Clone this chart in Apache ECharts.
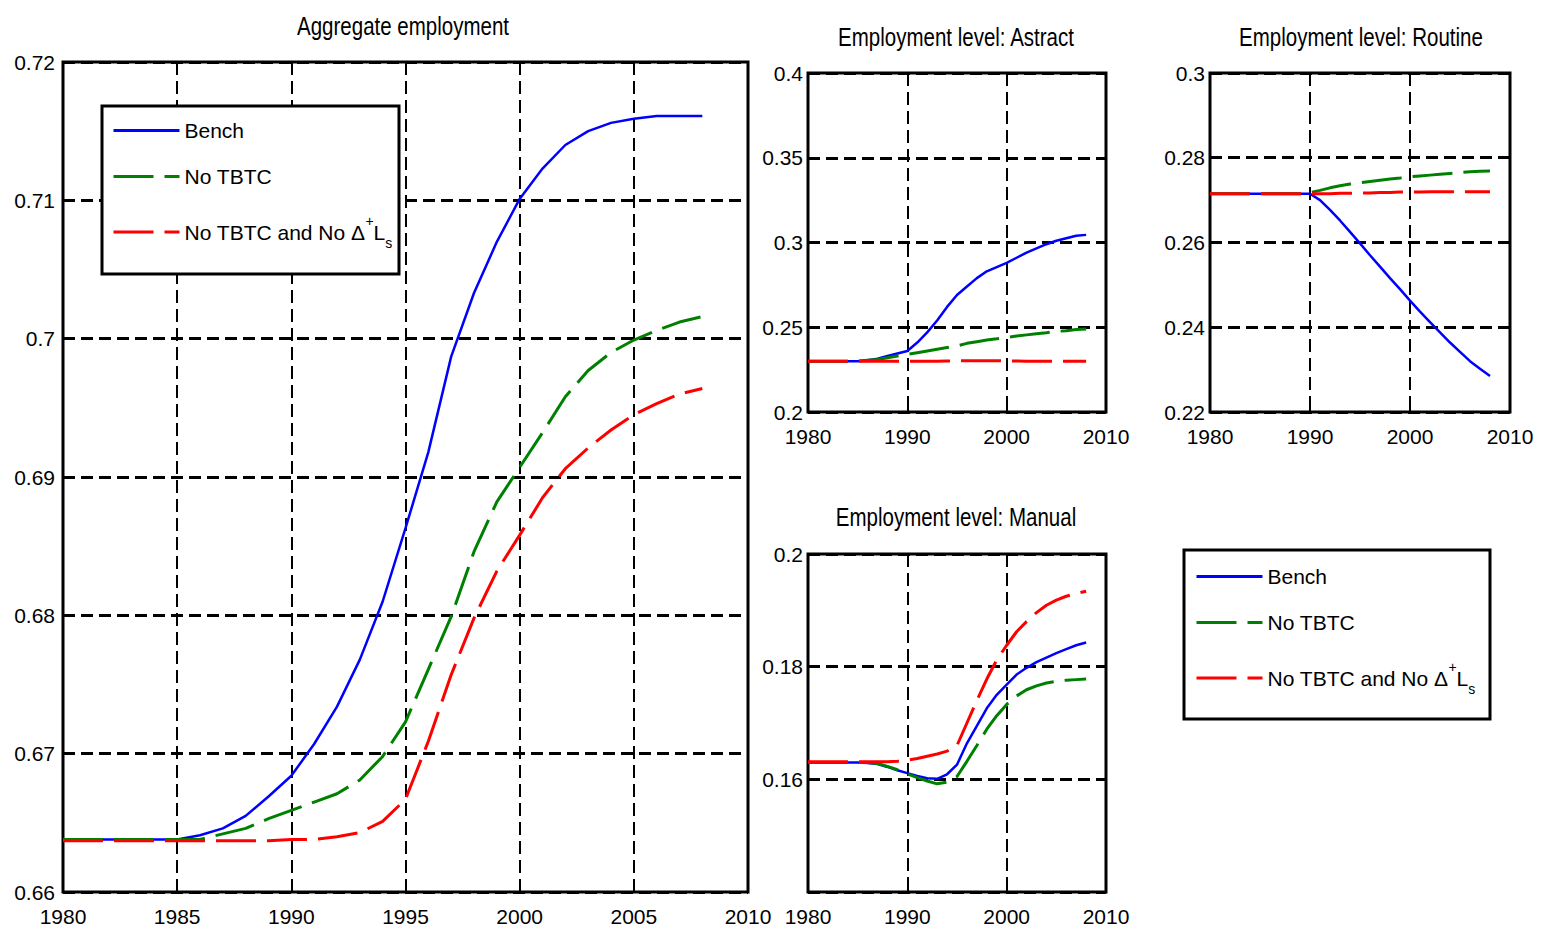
<!DOCTYPE html>
<html>
<head>
<meta charset="utf-8">
<script src="https://cdn.jsdelivr.net/npm/echarts@6/dist/echarts.min.js"></script>
<style>
html,body{margin:0;padding:0;background:#fff;}
#chart{width:1545px;height:933px;}
</style>
</head>
<body>
<div id="chart"></div>
<script>
// ---------------- DATA ----------------
const years = [1980,1981,1982,1983,1984,1985,1986,1987,1988,1989,1990,1991,1992,1993,1994,1995,1996,1997,1998,1999,2000,2001,2002,2003,2004,2005,2006,2007,2008];

const seriesNames = ['Bench', 'No TBTC', 'No TBTC and No Δ+Ls'];

// Aggregate employment
const aggBench = [0.6638,0.6638,0.6638,0.6638,0.6638,0.6638,0.6641,0.6646,0.6655,0.6669,0.6684,0.6707,0.6734,0.6768,0.6810,0.6863,0.6918,0.6987,0.7033,0.7070,0.7101,0.7123,0.7140,0.7150,0.7156,0.7159,0.7161,0.7161,0.7161];
const aggNoTBTC = [0.6638,0.6638,0.6638,0.6638,0.6638,0.6638,0.6638,0.6642,0.6646,0.6653,0.6659,0.6665,0.6671,0.6681,0.6698,0.6723,0.6761,0.6799,0.6846,0.6882,0.6907,0.6932,0.6958,0.6977,0.6990,0.6999,0.7006,0.7012,0.7016];
const aggNoTBTCNoL = [0.6637,0.6637,0.6637,0.6637,0.6637,0.6637,0.6637,0.6637,0.6637,0.6637,0.6638,0.6638,0.6640,0.6643,0.6651,0.6667,0.6709,0.6757,0.6798,0.6832,0.6858,0.6885,0.6906,0.6921,0.6934,0.6945,0.6953,0.6960,0.6964];

// Employment level: Abstract
const absBench = [0.2300,0.2300,0.2300,0.2300,0.2300,0.2300,0.2305,0.2315,0.2330,0.2345,0.2360,0.2410,0.2470,0.2540,0.2620,0.2690,0.2740,0.2790,0.2830,0.2855,0.2880,0.2910,0.2940,0.2965,0.2990,0.3010,0.3025,0.3040,0.3045];
const absNoTBTC = [0.2300,0.2300,0.2300,0.2300,0.2300,0.2300,0.2305,0.2310,0.2320,0.2330,0.2340,0.2350,0.2360,0.2370,0.2380,0.2390,0.2405,0.2415,0.2425,0.2432,0.2440,0.2448,0.2455,0.2462,0.2468,0.2475,0.2480,0.2487,0.2490];
const absNoTBTCNoL = [0.2300,0.2300,0.2300,0.2300,0.2300,0.2300,0.2300,0.2300,0.2300,0.2300,0.2300,0.2300,0.2300,0.2300,0.2301,0.2302,0.2303,0.2303,0.2303,0.2303,0.2302,0.2301,0.2300,0.2300,0.2300,0.2300,0.2300,0.2300,0.2300];

// Employment level: Routine
const rouBench = [0.2715,0.2715,0.2715,0.2715,0.2715,0.2715,0.2715,0.2715,0.2715,0.2715,0.2715,0.2700,0.2677,0.2652,0.2625,0.2598,0.2570,0.2543,0.2516,0.2490,0.2463,0.2437,0.2412,0.2388,0.2364,0.2342,0.2320,0.2302,0.2285];
const rouNoTBTC = [0.2715,0.2715,0.2715,0.2715,0.2715,0.2715,0.2715,0.2715,0.2715,0.2715,0.2718,0.2723,0.2729,0.2734,0.2738,0.2741,0.2744,0.2747,0.2750,0.2752,0.2755,0.2757,0.2759,0.2761,0.2763,0.2765,0.2767,0.2768,0.2769];
const rouNoTBTCNoL = [0.2715,0.2715,0.2715,0.2715,0.2715,0.2715,0.2715,0.2715,0.2715,0.2715,0.2715,0.2715,0.2715,0.2716,0.2716,0.2717,0.2717,0.2718,0.2718,0.2719,0.2719,0.2719,0.2720,0.2720,0.2720,0.2720,0.2720,0.2720,0.2720];

// Employment level: Manual
const manBench = [0.1630,0.1630,0.1630,0.1630,0.1630,0.1630,0.1629,0.1627,0.1622,0.1616,0.1611,0.1606,0.1602,0.1601,0.1609,0.1626,0.1664,0.1695,0.1726,0.1750,0.1768,0.1786,0.1798,0.1808,0.1816,0.1824,0.1831,0.1838,0.1843];
const manNoTBTC = [0.1630,0.1630,0.1630,0.1630,0.1630,0.1630,0.1630,0.1628,0.1623,0.1617,0.1610,0.1603,0.1597,0.1592,0.1595,0.1605,0.1632,0.1660,0.1689,0.1713,0.1733,0.1748,0.1759,0.1766,0.1771,0.1774,0.1776,0.1777,0.1778];
const manNoTBTCNoL = [0.1631,0.1631,0.1631,0.1631,0.1631,0.1631,0.1631,0.1631,0.1631,0.1632,0.1634,0.1637,0.1641,0.1645,0.1650,0.1660,0.1700,0.1740,0.1778,0.1812,0.1838,0.1862,0.1880,0.1896,0.1909,0.1918,0.1925,0.1930,0.1934];

// Axis ticks
const aggXTicks = {min:1980, max:2010, interval:5};
const smallXTicks = {min:1980, max:2010, interval:10};
const aggYTicks = {min:0.66, max:0.72, interval:0.01};
const absYTicks = {min:0.2, max:0.4, interval:0.05};
const rouYTicks = {min:0.22, max:0.3, interval:0.02};
const manYTicks = {min:0.14, max:0.2, interval:0.02};

const titles = ['Aggregate employment', 'Employment level: Astract', 'Employment level: Routine', 'Employment level: Manual'];

// ---------------- CHART ----------------
const FONT = "'Liberation Sans', Arial, sans-serif";
const colors = ['#0000ff', '#008000', '#ff0000'];
const lineTypes = ['solid', [40, 11], [40, 11]];
const lineWidths = [2.5, 3, 3];

const grids = [
  {left:63, top:62, width:685, height:830},
  {left:808, top:73, width:298, height:339},
  {left:1210, top:73, width:300, height:339},
  {left:808, top:554, width:298, height:338}
];

function fmt(v){ return String(parseFloat(v.toFixed(4))); }

function makeX(idx, t){
  return {
    gridIndex: idx, type:'value', min:t.min, max:t.max, interval:t.interval,
    axisLine:{show:false},
    axisTick:{show:true, inside:true, length:6, lineStyle:{color:'#000', width:2}},
    splitLine:{show:true, lineStyle:{color:'#000', type:[13,6], width:2}},
    axisLabel:{color:'#000', fontSize:21, fontFamily:FONT, margin:14, formatter: v => String(v)}
  };
}
function makeY(idx, t, margin, showMin){
  return {
    gridIndex: idx, type:'value', min:t.min, max:t.max, interval:t.interval,
    axisLine:{show:false},
    axisTick:{show:true, inside:true, length:6, lineStyle:{color:'#000', width:2}},
    splitLine:{show:true, lineStyle:{color:'#000', type:[12,6], width:3}},
    axisLabel:{color:'#000', fontSize:21, fontFamily:FONT, margin:margin, showMinLabel: showMin, formatter: fmt}
  };
}

const panelData = [
  [aggBench, aggNoTBTC, aggNoTBTCNoL],
  [absBench, absNoTBTC, absNoTBTCNoL],
  [rouBench, rouNoTBTC, rouNoTBTCNoL],
  [manBench, manNoTBTC, manNoTBTCNoL]
];

const series = [];
panelData.forEach((arrs, gi) => {
  arrs.forEach((vals, si) => {
    series.push({
      type:'line', name: seriesNames[si], xAxisIndex: gi, yAxisIndex: gi,
      symbol:'none', showSymbol:false, animation:false,
      data: years.map((y, i) => [y, vals[i]]),
      lineStyle:{color: colors[si], width: lineWidths[si], type: lineTypes[si]},
      itemStyle:{color: colors[si]},
      z: 2 + si
    });
  });
});

const legendFormatter = function(name){
  if (name === seriesNames[2]) return '{t|No TBTC and No Δ}{sup|+}{t|L}{sub|s}';
  return '{t|' + name + '}';
};
const legendText = {
  color:'#000', fontFamily:FONT, fontSize:21,
  rich:{
    t:{fontFamily:FONT, fontSize:21, color:'#000', lineHeight:36},
    sup:{fontFamily:FONT, fontSize:14, color:'#000', lineHeight:20, verticalAlign:'top'},
    sub:{fontFamily:FONT, fontSize:14, color:'#000', lineHeight:18, verticalAlign:'bottom'}
  }
};
function mkLegend(name, left, top){
  return {
    data:[name], left:left, top:top, orient:'vertical', padding:0,
    itemWidth:66, itemHeight:14, selectedMode:false,
    itemStyle:{opacity:0, color:'rgba(0,0,0,0)', borderWidth:0},
    lineStyle:{width:3},
    formatter: legendFormatter, textStyle: legendText, z: 10
  };
}

const legends = [
  mkLegend(seriesNames[0], 112, 120),
  mkLegend(seriesNames[1], 112, 166),
  mkLegend(seriesNames[2], 112, 214),
  mkLegend(seriesNames[0], 1195, 566),
  mkLegend(seriesNames[1], 1195, 612),
  mkLegend(seriesNames[2], 1195, 660)
];

function titleText(text, x, y){
  return {type:'text', x:x, y:y, z:5, scaleX:0.82, scaleY:1,
    style:{text:text, fontSize:25, fontFamily:FONT, fill:'#000',
      textAlign:'center', textVerticalAlign:'middle', align:'center', verticalAlign:'middle'}};
}

const option = {
  animation:false,
  backgroundColor:'#fff',
  grid: grids.map(g => Object.assign({show:true, borderColor:'#000', borderWidth:3, backgroundColor:'transparent', containLabel:false}, g)),
  xAxis: [makeX(0, aggXTicks), makeX(1, smallXTicks), makeX(2, smallXTicks), makeX(3, smallXTicks)],
  yAxis: [makeY(0, aggYTicks, 8, true), makeY(1, absYTicks, 5, true), makeY(2, rouYTicks, 5, true), makeY(3, manYTicks, 5, false)],
  legend: legends,
  graphic: [
    {type:'rect', z:8, shape:{x:102, y:106, width:297, height:168}, style:{fill:'#fff', stroke:'#000', lineWidth:3}},
    {type:'rect', z:8, shape:{x:1184, y:550, width:306, height:169}, style:{fill:'#fff', stroke:'#000', lineWidth:3}},
    titleText(titles[0], 403, 26),
    titleText(titles[1], 956, 37),
    titleText(titles[2], 1361, 37),
    titleText(titles[3], 956, 517)
  ],
  series: series
};

const chart = echarts.init(document.getElementById('chart'), null, {renderer:'svg'});
chart.setOption(option);
</script>
</body>
</html>
